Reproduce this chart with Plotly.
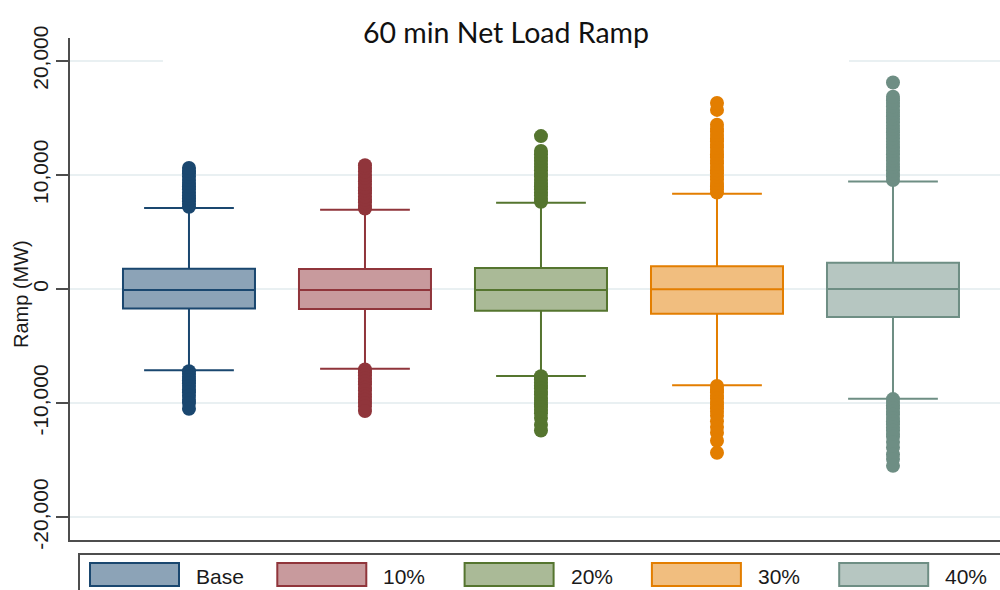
import plotly.graph_objects as go

categories = ["Base", "10%", "20%", "30%", "40%"]
line_colors = ["#1a476f", "#90353b", "#55752f", "#e37e00", "#6e8e84"]
fill_colors = ["#8ca3b7", "#c89a9d", "#aaba97", "#f1be7f", "#b6c6c1"]

q1 = [-1700, -1750, -1900, -2170, -2450]
median = [-90, -90, -90, -30, 0]
q3 = [1780, 1760, 1850, 2000, 2300]
lower_fence = [-7120, -7000, -7620, -8430, -9620]
upper_fence = [7100, 6950, 7560, 8350, 9420]

outliers_high = [
    [7200, 7450, 7700, 7950, 8200, 8450, 8750, 9000, 9300, 9550, 9850, 10150, 10350, 10600],
    [7050, 7300, 7600, 7850, 8100, 8400, 8650, 8900, 9200, 9450, 9750, 10000, 10300, 10600, 10850],
    [7650, 7900, 8200, 8450, 8750, 9000, 9300, 9550, 9850, 10100, 10400, 10700, 10950, 11250,
     11500, 11800, 12100, 13400],
    [8450, 8750, 9000, 9300, 9600, 9850, 10150, 10400, 10700, 11000, 11250, 11550, 11800, 12100,
     12400, 12650, 12950, 13200, 13500, 13800, 14050, 14400, 15700, 16300],
    [9550, 9850, 10100, 10400, 10700, 10950, 11250, 11500, 11800, 12100, 12350, 12650, 12900,
     13200, 13500, 13750, 14050, 14300, 14600, 14900, 15150, 15450, 15700, 16000, 16300, 16550,
     16850, 18100],
]
outliers_low = [
    [-7200, -7450, -7700, -8000, -8250, -8500, -8800, -9050, -9350, -9700, -10000, -10500],
    [-7050, -7300, -7550, -7850, -8100, -8350, -8650, -8900, -9200, -9450, -9700, -10000, -10300,
     -10700],
    [-7650, -7900, -8200, -8450, -8700, -9000, -9250, -9550, -9800, -10100, -10350, -10600,
     -10900, -11300, -11900, -12400],
    [-8500, -8800, -9050, -9350, -9600, -9900, -10150, -10450, -10750, -11100, -11600, -12100,
     -12600, -13300, -14350],
    [-9650, -9900, -10200, -10450, -10750, -11000, -11300, -11600, -11850, -12150, -12400, -12700,
     -12950, -13400, -13900, -14500, -14900, -15500],
]

y_ticks = [-20000, -10000, 0, 10000, 20000]
y_ticktext = [f"{v:,}" for v in y_ticks]

fig = go.Figure()
for i, cat in enumerate(categories):
    fig.add_trace(go.Box(
        x=[cat], q1=[q1[i]], median=[median[i]], q3=[q3[i]],
        lowerfence=[lower_fence[i]], upperfence=[upper_fence[i]],
        width=0.75, whiskerwidth=0.68, boxpoints=False,
        fillcolor=fill_colors[i], line=dict(color=line_colors[i], width=2),
        showlegend=False, hoverinfo="skip",
    ))
    pts = outliers_high[i] + outliers_low[i]
    fig.add_trace(go.Scatter(
        x=[cat] * len(pts), y=pts, mode="markers",
        marker=dict(color=line_colors[i], size=14, line=dict(width=0)),
        showlegend=False, hoverinfo="skip",
    ))

W, H = 1000, 590
ml, mr, mt, mb = 70, 0, 38, 50
pw, ph = W - ml - mr, H - mt - mb


def px(x):
    return (x - ml) / pw


def py(y):
    return (H - mb - y) / ph


txt_font = dict(family="Liberation Sans, Arial, sans-serif", color="#1a1a1a")

shapes = []
# white band behind title, covering the top gridline
shapes.append(dict(type="rect", xref="x", yref="y", x0=-0.148, x1=3.75, y0=19200, y1=23000,
                   fillcolor="white", line=dict(width=0), layer="between"))
# legend frame
shapes.append(dict(type="rect", xref="paper", yref="paper", x0=px(79), x1=px(1010),
                   y0=py(600), y1=py(554), fillcolor="rgba(0,0,0,0)",
                   line=dict(color="#4d4d4d", width=2), layer="above"))
annotations = []
for i, cat in enumerate(categories):
    sx = 90 + i * 187.3
    shapes.append(dict(type="rect", xref="paper", yref="paper", x0=px(sx), x1=px(sx + 89),
                       y0=py(586), y1=py(563), fillcolor=fill_colors[i],
                       line=dict(color=line_colors[i], width=2), layer="above"))
    annotations.append(dict(xref="paper", yref="paper", x=px(sx + 104), y=py(576),
                            text=cat, showarrow=False, xanchor="left", yanchor="middle",
                            font=dict(size=21, **txt_font)))

# y-axis title
annotations.append(dict(xref="paper", yref="paper", x=px(21), y=py(294), text="Ramp (MW)",
                        textangle=-90, showarrow=False, xanchor="center", yanchor="middle",
                        font=dict(size=20, **txt_font)))

fig.update_layout(
    width=W, height=H,
    margin=dict(l=ml, r=mr, t=mt, b=mb),
    paper_bgcolor="white", plot_bgcolor="white",
    title=dict(text="60 min Net Load Ramp", xref="container", x=0.506, xanchor="center",
               yref="container", y=1 - 33 / H, yanchor="middle",
               font=dict(family="Lato, sans-serif", size=28.5, color="#111111")),
    showlegend=False,
    shapes=shapes,
    annotations=annotations,
    xaxis=dict(type="category", categoryorder="array", categoryarray=categories,
               range=[-0.676, 4.608], showticklabels=False, ticks="", showgrid=False,
               showline=True, linecolor="#4d4d4d", linewidth=2, zeroline=False, fixedrange=True),
    yaxis=dict(range=[-22000, 22000], tickvals=y_ticks, ticktext=y_ticktext, tickangle=-90,
               ticks="outside", ticklen=12, tickwidth=2, tickcolor="#4d4d4d",
               showline=True, linecolor="#4d4d4d", linewidth=2,
               showgrid=True, gridcolor="#e9f0f2", gridwidth=2, zeroline=False,
               tickfont=dict(size=21, **txt_font)),
)

fig.write_html("out.html", config={"displayModeBar": False},
               post_script="document.body.style.margin='0';")
